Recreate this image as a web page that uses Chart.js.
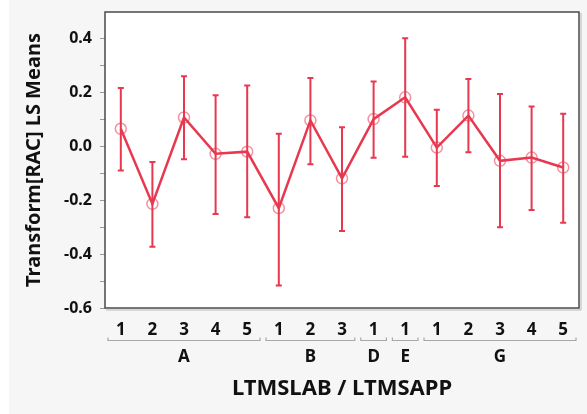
<!DOCTYPE html>
<html>
<head>
<meta charset="utf-8">
<script src="https://cdn.jsdelivr.net/npm/chart.js@4"></script>
<style>
    html, body { margin: 0; padding: 0; background: #ffffff; }
    #wrap { width: 587px; height: 414px; }
</style>
</head>
<body>
<div id="wrap"><canvas id="lsChart" width="587" height="414"></canvas></div>
<script>
// LS means by lab / app with error bars
const groups = ["A", "B", "D", "E", "G"]
const groupSizes = [5, 3, 1, 1, 5]
const appLabels = ["1", "2", "3", "4", "5", "1", "2", "3", "1", "1", "1", "2", "3", "4", "5"]
const means = [0.066, -0.213, 0.108, -0.027, -0.019, -0.229, 0.097, -0.118, 0.102, 0.183, -0.004, 0.115, -0.053, -0.041, -0.078]
const upper = [0.218, -0.057, 0.261, 0.191, 0.227, 0.048, 0.255, 0.072, 0.242, 0.402, 0.137, 0.251, 0.195, 0.149, 0.122]
const lower = [-0.089, -0.372, -0.047, -0.251, -0.263, -0.516, -0.066, -0.314, -0.042, -0.038, -0.147, -0.021, -0.300, -0.236, -0.283]
const yLabelTicks = [-0.6, -0.4, -0.2, 0.0, 0.2, 0.4]

const red = "#e8384f"
const font = "'Noto Sans', 'DejaVu Sans', sans-serif"

const panelPlugin = {
    id: "panel",
    beforeDraw(chart) {
        const { ctx, chartArea } = chart
        ctx.save()
        ctx.fillStyle = "#ffffff"
        ctx.fillRect(0, 0, chart.width, chart.height)
        ctx.fillStyle = "#f6f6f6"
        ctx.fillRect(9, 0, chart.width - 9, chart.height)
        ctx.fillStyle = "#ffffff"
        ctx.fillRect(chartArea.left, chartArea.top, chartArea.width, chartArea.height)
        ctx.restore()
    },
    afterDraw(chart) {
        const { ctx, chartArea } = chart
        const x = chart.scales.x
        ctx.save()
        // frame
        ctx.strokeStyle = "#b8b8b8"
        ctx.lineWidth = 1
        ctx.beginPath()
        ctx.moveTo(chartArea.right + 2, chartArea.top + 1)
        ctx.lineTo(chartArea.right + 2, chartArea.bottom + 2)
        ctx.lineTo(chartArea.left + 1, chartArea.bottom + 2)
        ctx.stroke()
        ctx.strokeStyle = "#4a4a4a"
        ctx.lineWidth = 1.5
        ctx.strokeRect(chartArea.left, chartArea.top, chartArea.width, chartArea.height)

        // group brackets and labels
        const band = x.getPixelForValue(1) - x.getPixelForValue(0)
        let start = 0
        ctx.strokeStyle = "#a8a8a8"
        ctx.lineWidth = 1.2
        ctx.fillStyle = "#111111"
        ctx.font = "bold 17px " + font
        ctx.textAlign = "center"
        ctx.textBaseline = "middle"
        groups.forEach((g, gi) => {
            const end = start + groupSizes[gi] - 1
            const x0 = x.getPixelForValue(start) - band / 2 + 3
            const x1 = x.getPixelForValue(end) + band / 2 - 3
            const by = 340.5
            ctx.beginPath()
            ctx.moveTo(x0, by - 3)
            ctx.lineTo(x0, by)
            ctx.lineTo(x1, by)
            ctx.lineTo(x1, by - 3)
            ctx.stroke()
            ctx.fillText(g, (x0 + x1) / 2, 357)
            start = end + 1
        })

        // x axis title
        ctx.font = "bold 22px " + font
        ctx.fillText("LTMSLAB / LTMSAPP", (chartArea.left + chartArea.right) / 2, 389)
        ctx.restore()
    },
}

const errorBarPlugin = {
    id: "errorBars",
    afterDatasetsDraw(chart) {
        const { ctx } = chart
        const x = chart.scales.x
        const y = chart.scales.y
        ctx.save()
        ctx.strokeStyle = red
        ctx.lineWidth = 2
        means.forEach((m, i) => {
            const px = x.getPixelForValue(i)
            const yHi = y.getPixelForValue(upper[i])
            const yLo = y.getPixelForValue(lower[i])
            ctx.beginPath()
            ctx.moveTo(px, yHi)
            ctx.lineTo(px, yLo)
            ctx.moveTo(px - 3, yHi)
            ctx.lineTo(px + 3, yHi)
            ctx.moveTo(px - 3, yLo)
            ctx.lineTo(px + 3, yLo)
            ctx.stroke()
        })
        ctx.restore()
    },
}

new Chart(document.getElementById("lsChart").getContext("2d"), {
    type: "line",
    data: {
        labels: appLabels,
        datasets: [
            {
                data: means,
                borderColor: red,
                borderWidth: 2.5,
                tension: 0,
                pointRadius: 5.5,
                pointBorderWidth: 1.5,
                pointBorderColor: "rgba(232, 56, 79, 0.55)",
                pointBackgroundColor: "rgba(0, 0, 0, 0)",
            },
        ],
    },
    options: {
        responsive: false,
        animation: false,
        layout: { padding: { top: 12, right: 8, left: 0, bottom: 0 } },
        plugins: {
            legend: { display: false },
            tooltip: { enabled: false },
        },
        scales: {
            x: {
                type: "category",
                offset: true,
                border: { display: false },
                grid: { display: false },
                ticks: {
                    color: "#111111",
                    font: { family: font, size: 17, weight: "bold" },
                    padding: 4,
                    maxRotation: 0,
                    autoSkip: false,
                },
                afterFit(scale) {
                    scale.height = 106
                },
            },
            y: {
                min: -0.6,
                max: 0.5,
                border: { display: false },
                grid: {
                    drawOnChartArea: false,
                    tickLength: 5,
                    tickColor: (c) => (Math.round(c.tick.value * 10) === 5 ? "rgba(0,0,0,0)" : "#9a9a9a"),
                },
                ticks: {
                    stepSize: 0.1,
                    color: "#111111",
                    padding: 8,
                    font: { family: font, size: 16, weight: "bold" },
                    callback: (v) => {
                        const t = Math.round(v * 10) / 10
                        return yLabelTicks.some((k) => Math.abs(k - t) < 1e-6) ? t.toFixed(1) : ""
                    },
                },
                title: {
                    display: true,
                    text: "Transform[RAC] LS Means",
                    color: "#111111",
                    font: { family: font, size: 20, weight: "bold" },
                    padding: { top: 22, bottom: 0 },
                },
                afterFit(scale) {
                    scale.width = 105
                    scale.paddingTop = 0
                    scale.paddingBottom = 0
                },
            },
        },
    },
    plugins: [panelPlugin, errorBarPlugin],
})
</script>
</body>
</html>
